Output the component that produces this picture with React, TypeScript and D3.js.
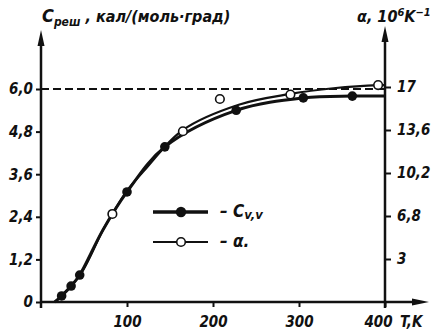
import React, { useEffect, useRef } from 'react';
import * as d3 from 'd3';

// Cv,v (lattice heat capacity) markers, cal/(mol·deg)
const cvT = [24, 35, 45, 100, 144, 227, 305, 362];
const cvVal = [0.17, 0.45, 0.76, 3.1, 4.37, 5.4, 5.75, 5.8];
// smoothed Cv curve as drawn
const cvCurveT = [16, 24, 35, 45, 72, 100, 144, 227, 305, 362, 400];
const cvCurveVal = [0, 0.17, 0.45, 0.76, 2.03, 3.1, 4.37, 5.4, 5.75, 5.8, 5.8];

// alpha (thermal expansion) markers, 10^-6 K^-1
const alphaT = [83, 165, 208, 290, 392];
const alphaVal = [6.96, 13.5, 16.05, 16.4, 17.15];
// smoothed alpha curve as drawn
const alphaCurveT = [16, 45, 72, 83, 100, 120, 165, 230, 290, 340, 392, 400];
const alphaCurveVal = [0, 2.1, 5.7, 6.96, 8.8, 10.4, 13.6, 15.6, 16.45, 16.9, 17.15, 17.15];

const xTicks = [100, 200, 300, 400];
const leftTicks = [0, 1.2, 2.4, 3.6, 4.8, 6.0];
const leftLabels = ['0', '1,2', '2,4', '3,6', '4,8', '6,0'];
const rightTicks = [3.4, 6.8, 10.2, 13.6, 17];
const rightLabels = ['3', '6,8', '10,2', '13,6', '17'];

const W = 436;
const H = 335;
const FONT = "'Liberation Sans Narrow', 'DejaVu Sans Condensed', 'Liberation Sans', sans-serif";

export default function App() {
  const svgRef = useRef<SVGSVGElement>(null);

  useEffect(() => {
    if (!svgRef.current) return;
    const svg = d3.select(svgRef.current);
    svg.selectAll('*').remove();

    const x = d3.scaleLinear().domain([0, 400]).range([41, 385]);
    const yL = d3.scaleLinear().domain([0, 6]).range([302, 89]);
    const yR = d3.scaleLinear().domain([0, 17]).range([302, 87]);
    const x0 = x(0);
    const xEnd = x(400);
    const yBase = yL(0);

    const txt = (sel: any) =>
      sel.attr('font-family', FONT).attr('font-style', 'italic').attr('font-weight', 'bold').attr('fill', '#111');

    // dashed 6.0 level
    svg.append('line')
      .attr('x1', x0).attr('x2', xEnd)
      .attr('y1', yL(6)).attr('y2', yL(6))
      .attr('stroke', '#111').attr('stroke-width', 2)
      .attr('stroke-dasharray', '8,4');

    // axes lines
    svg.append('line').attr('x1', x0).attr('x2', x0).attr('y1', yBase + 6).attr('y2', 40)
      .attr('stroke', '#111').attr('stroke-width', 2.5);
    svg.append('path').attr('d', `M${x0 - 3.5},46 L${x0},30 L${x0 + 3.5},46 Z`).attr('fill', '#111');

    svg.append('line').attr('x1', xEnd).attr('x2', xEnd).attr('y1', yBase + 6).attr('y2', 36)
      .attr('stroke', '#111').attr('stroke-width', 2.5);
    svg.append('path').attr('d', `M${xEnd - 3.5},42 L${xEnd},26 L${xEnd + 3.5},42 Z`).attr('fill', '#111');

    svg.append('line').attr('x1', x0).attr('x2', 418).attr('y1', yBase).attr('y2', yBase)
      .attr('stroke', '#111').attr('stroke-width', 2.5);
    svg.append('path').attr('d', `M412,${yBase - 3.5} L429,${yBase} L412,${yBase + 3.5} Z`).attr('fill', '#111');

    // ticks
    const gx = svg.append('g').attr('transform', `translate(0,${yBase})`)
      .call(d3.axisBottom(x).tickValues(xTicks).tickSize(5).tickSizeOuter(0).tickFormat((d: any) => String(d)));
    gx.select('.domain').remove();
    gx.selectAll('line').attr('stroke', '#111').attr('stroke-width', 2);
    gx.selectAll('text').attr('dy', null).attr('y', 25).attr('font-size', 15).call(txt)
      .attr('dx', (d: any) => (d === 400 ? -7 : 0));

    const gl = svg.append('g').attr('transform', `translate(${x0},0)`)
      .call(d3.axisLeft(yL).tickValues(leftTicks).tickSize(5).tickSizeOuter(0)
        .tickFormat((d: any, i: number) => leftLabels[i]));
    gl.select('.domain').remove();
    gl.selectAll('line').attr('stroke', '#111').attr('stroke-width', 2);
    gl.selectAll('text').attr('x', -8).attr('font-size', 15).call(txt);

    const gr = svg.append('g').attr('transform', `translate(${xEnd},0)`)
      .call(d3.axisRight(yR).tickValues(rightTicks).tickSize(6).tickSizeOuter(0)
        .tickFormat((d: any, i: number) => rightLabels[i]));
    gr.select('.domain').remove();
    gr.selectAll('line').attr('stroke', '#111').attr('stroke-width', 2);
    gr.selectAll('text').attr('x', 12).attr('font-size', 15).call(txt);

    // axis titles
    const tl = svg.append('text').attr('x', 42).attr('y', 22).call(txt).attr('font-size', 16);
    tl.append('tspan').text('C').attr('font-size', 18);
    tl.append('tspan').text('реш').attr('font-size', 12).attr('dy', 4);
    tl.append('tspan').text(' , кал/(моль·град)').attr('dy', -4);

    const tr = svg.append('text').attr('x', 357).attr('y', 22).call(txt).attr('font-size', 16);
    tr.append('tspan').text('α, 10');
    tr.append('tspan').text('6').attr('font-size', 11).attr('dy', -6);
    tr.append('tspan').text('K').attr('dy', 6);
    tr.append('tspan').text('−1').attr('font-size', 11).attr('dy', -6);

    svg.append('text').attr('x', 400).attr('y', yBase + 25).attr('font-size', 15).call(txt).text('T,K');

    // curves
    const line = d3.line<[number, number]>().curve(d3.curveCatmullRom.alpha(0.5));
    const cvPts = cvCurveT.map((t, i) => [x(t), yL(cvCurveVal[i])] as [number, number]);
    const alPts = alphaCurveT.map((t, i) => [x(t), yR(alphaCurveVal[i])] as [number, number]);

    svg.append('path').attr('d', line(alPts)).attr('fill', 'none').attr('stroke', '#111').attr('stroke-width', 2.2);
    svg.append('path').attr('d', line(cvPts)).attr('fill', 'none').attr('stroke', '#111').attr('stroke-width', 3);

    svg.append('g').selectAll('circle').data(cvT).join('circle')
      .attr('cx', (d) => x(d)).attr('cy', (d, i) => yL(cvVal[i]))
      .attr('r', 4.8).attr('fill', '#111');

    svg.append('g').selectAll('circle').data(alphaT).join('circle')
      .attr('cx', (d) => x(d)).attr('cy', (d, i) => yR(alphaVal[i]))
      .attr('r', 4.3).attr('fill', '#fff').attr('stroke', '#111').attr('stroke-width', 1.6);

    // legend
    const lg = svg.append('g').attr('transform', 'translate(153,212)');
    lg.append('line').attr('x1', 0).attr('x2', 55).attr('y1', 0).attr('y2', 0).attr('stroke', '#111').attr('stroke-width', 3.5);
    lg.append('circle').attr('cx', 28).attr('cy', 0).attr('r', 5.2).attr('fill', '#111');
    lg.append('line').attr('x1', 0).attr('x2', 55).attr('y1', 30).attr('y2', 30).attr('stroke', '#111').attr('stroke-width', 2.2);
    lg.append('circle').attr('cx', 28).attr('cy', 30).attr('r', 4.3).attr('fill', '#fff').attr('stroke', '#111').attr('stroke-width', 1.6);

    const l1 = lg.append('text').attr('x', 67).attr('y', 5).call(txt).attr('font-size', 17);
    l1.append('tspan').text('– C');
    l1.append('tspan').text('v,v').attr('font-size', 13).attr('dy', 2);
    lg.append('text').attr('x', 67).attr('y', 35).call(txt).attr('font-size', 17).text('– α.');
  }, []);

  return (
    <svg ref={svgRef} width={W} height={H} viewBox={`0 0 ${W} ${H}`}
      style={{ position: 'absolute', left: 0, top: 0, background: '#fff' }} />
  );
}
